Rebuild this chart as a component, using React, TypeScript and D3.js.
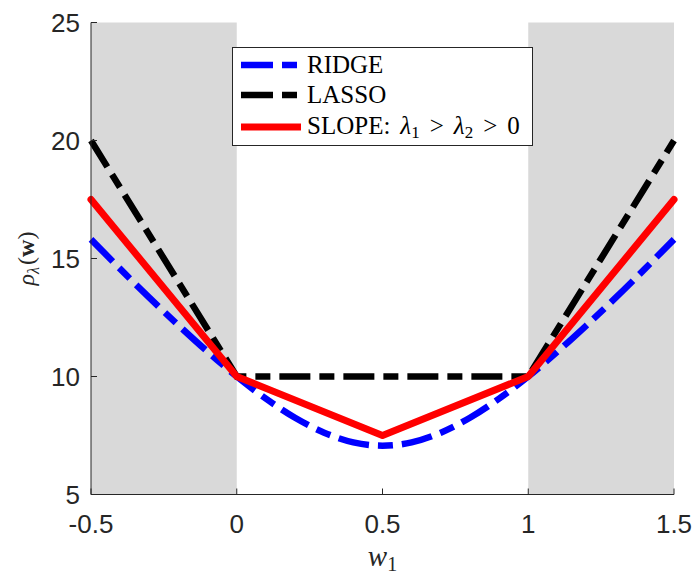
import React from 'react';
import * as d3 from 'd3';

// values
const ridgeW = [-0.5, -0.4, -0.3, -0.2, -0.1, 0, 0.1, 0.2, 0.3, 0.4, 0.5, 0.6, 0.7, 0.8, 0.9, 1, 1.1, 1.2, 1.3, 1.4, 1.5];
const ridgeRho = [15.81, 14.56, 13.34, 12.17, 11.05, 10.0, 9.06, 8.25, 7.62, 7.21, 7.07, 7.21, 7.62, 8.25, 9.06, 10.0, 11.05, 12.17, 13.34, 14.56, 15.81];
const lassoW = [-0.5, 0, 1, 1.5];
const lassoRho = [20, 10, 10, 20];
const slopeW = [-0.5, 0, 0.5, 1, 1.5];
const slopeRho = [17.5, 10, 7.5, 10, 17.5];
const shaded = [[-0.5, 0], [1, 1.5]];
const xTicks = [-0.5, 0, 0.5, 1, 1.5];
const xTickLabels = ['-0.5', '0', '0.5', '1', '1.5'];
const yTicks = [5, 10, 15, 20, 25];

const W = 696, H = 575;
const margin = { top: 22.5, right: 22, bottom: 80.5, left: 91 };

export default function App() {
  const x = d3.scaleLinear().domain([-0.5, 1.5]).range([margin.left, W - margin.right]);
  const y = d3.scaleLinear().domain([5, 25]).range([H - margin.bottom, margin.top]);

  const mk = (ws: number[], rs: number[], curve: any) =>
    d3.line<number>()
      .x((d, i) => x(ws[i]))
      .y((d) => y(d))
      .curve(curve)(rs) || '';

  const ridgePath = mk(ridgeW, ridgeRho, d3.curveMonotoneX);
  const lassoPath = mk(lassoW, lassoRho, d3.curveLinear);
  const slopePath = mk(slopeW, slopeRho, d3.curveLinear);

  const axisColor = '#262626';
  const tickFont = "'Liberation Sans', Arial, sans-serif";
  const serif = "'Liberation Serif', 'Times New Roman', serif";
  const dash = '31 9 15 9';

  const x0 = x.range()[0], x1 = x.range()[1];
  const yb = y.range()[0], yt = y.range()[1];

  const lg = { x: 232.5, y: 47.5, w: 300, h: 98 };
  const rows = [65, 95, 127];
  const baselines = [73, 103, 134];

  return (
    <svg width={W} height={H} style={{ position: 'absolute', left: 0, top: 0, background: '#fff' }}>
      {shaded.map(([a, b], i) => (
        <rect key={i} x={x(a)} y={yt} width={x(b) - x(a)} height={yb - yt} fill="#d9d9d9" />
      ))}

      <path d={ridgePath} fill="none" stroke="#0000ff" strokeWidth={6.5} strokeDasharray={dash} />
      <path d={lassoPath} fill="none" stroke="#000" strokeWidth={6.5} strokeDasharray={dash} />
      <path d={slopePath} fill="none" stroke="#ff0000" strokeWidth={7} strokeLinecap="round" strokeLinejoin="round" />

      {/* axes */}
      <line x1={x0} x2={x0} y1={yt} y2={yb} stroke={axisColor} strokeWidth={1} />
      <line x1={x0} x2={x1} y1={yb} y2={yb} stroke={axisColor} strokeWidth={1} />
      {yTicks.map((t) => (
        <g key={'y' + t}>
          <line x1={x0} x2={x0 + 6} y1={y(t)} y2={y(t)} stroke={axisColor} />
          <text x={x0 - 11} y={y(t)} dy="0.36em" textAnchor="end" fontSize={26} fontFamily={tickFont} fill={axisColor}>{t}</text>
        </g>
      ))}
      {xTicks.map((t, i) => (
        <g key={'x' + t}>
          <line x1={x(t)} x2={x(t)} y1={yb} y2={yb - 6} stroke={axisColor} />
          <text x={x(t)} y={533} textAnchor="middle" fontSize={26} fontFamily={tickFont} fill={axisColor}>{xTickLabels[i]}</text>
        </g>
      ))}

      {/* axis labels */}
      <text x={x(0.5)} y={566} textAnchor="middle" fontFamily={serif} fontSize={29} fill={axisColor}>
        <tspan fontStyle="italic">w</tspan>
        <tspan fontSize={20} dy={5}>1</tspan>
      </text>
      <text transform={`translate(34,${y(15)}) rotate(-90)`} textAnchor="middle" fontFamily={serif} fontSize={24} fill={axisColor}>
        <tspan fontStyle="italic">ρ</tspan>
        <tspan fontStyle="italic" fontSize={16} dy={5}>λ</tspan>
        <tspan dy={-5} dx={2}>(</tspan>
        <tspan fontWeight="bold">w</tspan>
        <tspan>)</tspan>
      </text>

      {/* legend */}
      <rect x={lg.x} y={lg.y} width={lg.w} height={lg.h} fill="#fff" stroke={axisColor} strokeWidth={1} />
      <line x1={241} x2={301} y1={rows[0]} y2={rows[0]} stroke="#0000ff" strokeWidth={6.5} strokeDasharray="32 9 15 9" />
      <line x1={241} x2={301} y1={rows[1]} y2={rows[1]} stroke="#000" strokeWidth={6.5} strokeDasharray="32 9 15 9" />
      <line x1={241} x2={301} y1={rows[2]} y2={rows[2]} stroke="#ff0000" strokeWidth={7} />
      <g fontFamily={serif} fontSize={25} fill="#000">
        <text x={307} y={baselines[0]}>RIDGE</text>
        <text x={307} y={baselines[1]}>LASSO</text>
        <text x={307} y={baselines[2]}>
          SLOPE:
          <tspan dx={10} fontStyle="italic">λ</tspan>
          <tspan fontSize={17} dy={4}>1</tspan>
          <tspan dx={10} dy={-4}>&gt;</tspan>
          <tspan dx={10} fontStyle="italic">λ</tspan>
          <tspan fontSize={17} dy={4}>2</tspan>
          <tspan dx={10} dy={-4}>&gt;</tspan>
          <tspan dx={10}>0</tspan>
        </text>
      </g>
    </svg>
  );
}
